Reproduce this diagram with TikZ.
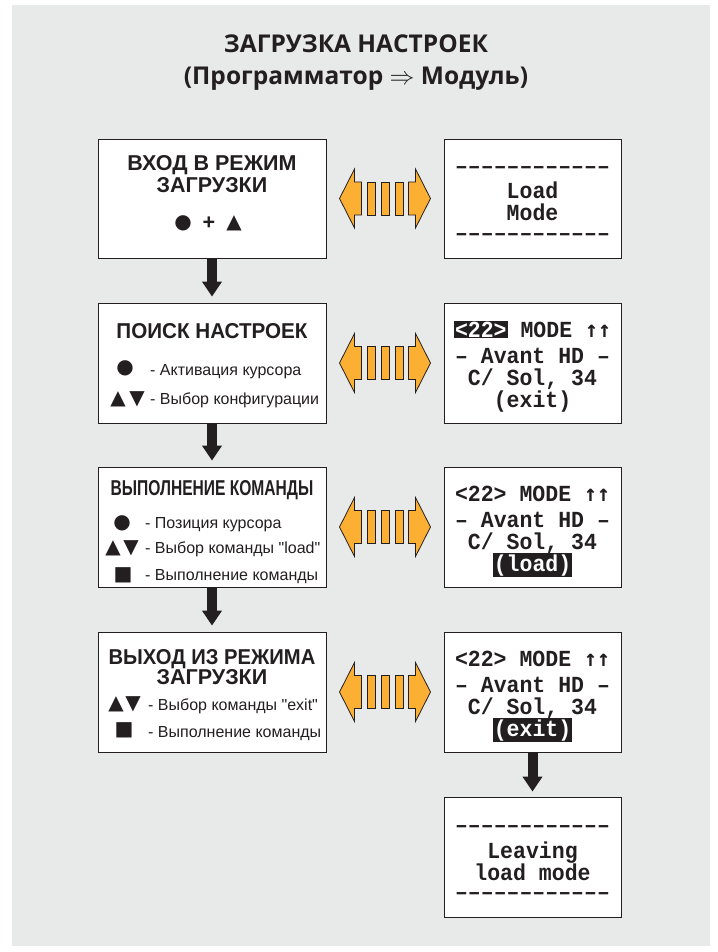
\documentclass[tikz,border=0pt]{standalone}
\usepackage{fontspec}
\usepackage{graphicx}
\setmainfont{Liberation Sans}[Ligatures=TeXOff]
\newfontfamily\titlef{Open Sans}
\newfontfamily\symf{DejaVu Sans}
\newfontfamily\scrf{Liberation Mono}[FakeStretch=0.935,Ligatures=TeXOff]
\newfontfamily\arrf{DejaVu Sans Mono}[FakeStretch=0.935]
\usetikzlibrary{arrows.meta,calc}
\definecolor{bggray}{RGB}{232,233,233}
\definecolor{ink}{RGB}{35,31,32}
\definecolor{orng}{RGB}{251,176,52}
\newcommand{\hlt}[1]{{\setlength{\fboxsep}{1pt}\colorbox{ink}{\textcolor{white}{#1}}}}
\tikzset{
  box/.style={draw=ink, line width=0.8pt, fill=white, inner sep=0pt},
  head/.style={font=\fontsize{21.5}{23}\selectfont\bfseries, text=ink, anchor=base, inner sep=0pt},
  body/.style={font=\fontsize{16}{18}\selectfont, text=ink, anchor=base west, inner sep=0pt},
  sym/.style={font=\symf\fontsize{20}{22}\selectfont, text=ink, inner sep=0pt, anchor=center},
  scr/.style={font=\scrf\bfseries\fontsize{23}{25}\selectfont, text=ink, anchor=base, inner sep=0pt},
  titl/.style={font=\titlef\bfseries\fontsize{24.5}{28}\selectfont, text=ink, anchor=base, inner sep=0pt},
  downarrow/.style={draw=ink, line width=10pt, -{Triangle[width=19pt,length=15pt]}},
  arrowfill/.style={fill=orng, draw=ink, line width=0.8pt, line join=miter},
  dblarrow/.pic={
    \filldraw[arrowfill] (-45.5,0) -- (-30.5,-29.5) -- (-30.5,-16.5) -- (-23.5,-16.5)
      -- (-23.5,16.5) -- (-30.5,16.5) -- (-30.5,29.5) -- cycle;
    \filldraw[arrowfill] (45.5,0) -- (30.5,-29.5) -- (30.5,-16.5) -- (23.5,-16.5)
      -- (23.5,16.5) -- (30.5,16.5) -- (30.5,29.5) -- cycle;
    \filldraw[arrowfill] (-18,-16.5) rectangle (-10,16.5);
    \filldraw[arrowfill] (-4,-16.5) rectangle (4,16.5);
    \filldraw[arrowfill] (10,-16.5) rectangle (18,16.5);
  }
}
\begin{document}
\begin{tikzpicture}[x=1pt,y=-1pt]
\useasboundingbox (0,0) rectangle (717,952);
\fill[bggray] (12,5) rectangle (710,946);

% title
\node[titl] (t1) at (356,53) {ЗАГРУЗКА НАСТРОЕК};
\node[titl] (t2) at (356,85) {(Программатор $\Rightarrow$ Модуль)};

% boxes
\node[box, minimum width=228pt, minimum height=119pt] (L1) at (212,198.5) {};
\node[box, minimum width=228pt, minimum height=120pt] (L2) at (212,363) {};
\node[box, minimum width=228pt, minimum height=120pt] (L3) at (212,527) {};
\node[box, minimum width=228pt, minimum height=120pt] (L4) at (212,692) {};
\node[box, minimum width=177pt, minimum height=119pt] (R1) at (532.5,198.5) {};
\node[box, minimum width=177pt, minimum height=120pt] (R2) at (532.5,363) {};
\node[box, minimum width=177pt, minimum height=120pt] (R3) at (532.5,527) {};
\node[box, minimum width=177pt, minimum height=120pt] (R4) at (532.5,692) {};
\node[box, minimum width=177pt, minimum height=120pt] (R5) at (532.5,857) {};

% box 1
\node[head] (h1a) at (212,171) {ВХОД В РЕЖИМ};
\node[head] (h1b) at (212,193) {ЗАГРУЗКИ};
\node[sym] (s1a) at (183,223) {●};
\node[head, anchor=center] (s1b) at (209,223) {+};
\node[sym] (s1c) at (234,223) {▲};

% box 2
\node[head] (h2) at (212,338) {\scalebox{0.96}[1]{ПОИСК НАСТРОЕК}};
\node[sym] (s2a) at (125,368) {●};
\node[body] (b2a) at (150,375) {- Активация курсора};
\node[sym] (s2b) at (118,399) {▲};
\node[sym] (s2c) at (137,399) {▼};
\node[body] (b2b) at (150,404) {- Выбор конфигурации};

% box 3
\node[head] (h3) at (212,495) {\scalebox{0.725}[1]{ВЫПОЛНЕНИЕ КОМАНДЫ}};
\node[sym] (s3a) at (122,523) {●};
\node[body] (b3a) at (145,528) {- Позиция курсора};
\node[sym] (s3b) at (113,548) {▲};
\node[sym] (s3c) at (131,548) {▼};
\node[body] (b3b) at (145,553) {- Выбор команды "load"};
\node[sym] (s3d) at (123,575) {■};
\node[body] (b3c) at (145,580) {- Выполнение команды};

% box 4
\node[head] (h4a) at (212,664) {\scalebox{0.94}[1]{ВЫХОД ИЗ РЕЖИМА}};
\node[head] (h4b) at (212,684) {ЗАГРУЗКИ};
\node[sym] (s4a) at (116,704) {▲};
\node[sym] (s4b) at (133,704) {▼};
\node[body] (b4a) at (148,710) {- Выбор команды "exit"};
\node[sym] (s4c) at (124,730) {■};
\node[body] (b4b) at (148,737) {- Выполнение команды};

% screen 1
\node[scr] (r1a) at (532.5,174) {––––––––––––};
\node[scr] (r1b) at (532.5,198) {Load};
\node[scr] (r1c) at (532.5,220) {Mode};
\node[scr] (r1d) at (532.5,240) {––––––––––––};

% screen 2
\node[scr] (r2a) at (532.5,337) {\hlt{<22>} MODE {\arrf ↑↑}};
\node[scr] (r2b) at (532.5,363) {– Avant HD –};
\node[scr] (r2c) at (532.5,385) {C/ Sol, 34};
\node[scr] (r2d) at (532.5,407) {(exit)};

% screen 3
\node[scr] (r3a) at (532.5,501) {<22> MODE {\arrf ↑↑}};
\node[scr] (r3b) at (532.5,527) {– Avant HD –};
\node[scr] (r3c) at (532.5,549) {C/ Sol, 34};
\node[scr] (r3d) at (532.5,571) {\hlt{(load)}};

% screen 4
\node[scr] (r4a) at (532.5,666) {<22> MODE {\arrf ↑↑}};
\node[scr] (r4b) at (532.5,692) {– Avant HD –};
\node[scr] (r4c) at (532.5,714) {C/ Sol, 34};
\node[scr] (r4d) at (532.5,736) {\hlt{(exit)}};

% screen 5
\node[scr] (r5a) at (532.5,832) {––––––––––––};
\node[scr] (r5b) at (532.5,858) {Leaving};
\node[scr] (r5c) at (532.5,880) {load mode};
\node[scr] (r5d) at (532.5,899) {––––––––––––};

% down arrows
\draw[downarrow] (L1.south) -- ([yshift=6pt]L2.north);
\draw[downarrow] (L2.south) -- ([yshift=6pt]L3.north);
\draw[downarrow] (L3.south) -- ([yshift=6pt]L4.north);
\draw[downarrow] (R4.south) -- ([yshift=5pt]R5.north);

% double arrows
\pic at ($(L1.east)!0.5!(R1.west)$) {dblarrow};
\pic at ($(L2.east)!0.5!(R2.west)$) {dblarrow};
\pic at ($(L3.east)!0.5!(R3.west)$) {dblarrow};
\pic at ($(L4.east)!0.5!(R4.west)$) {dblarrow};
\end{tikzpicture}
\end{document}
